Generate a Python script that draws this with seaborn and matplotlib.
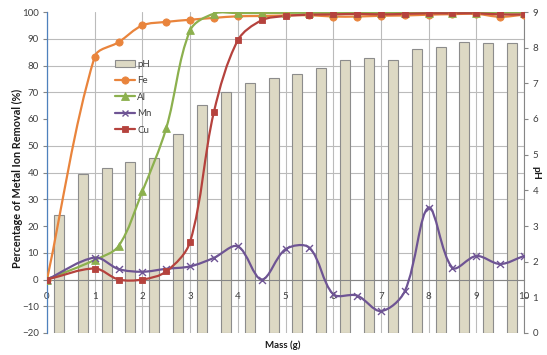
import numpy as np
import pandas as pd
import matplotlib
matplotlib.use("Agg")
import matplotlib.pyplot as plt
from matplotlib.path import Path
from matplotlib.patches import PathPatch, Patch
from matplotlib.lines import Line2D
from matplotlib.ticker import MultipleLocator
import seaborn as sns

# ---- data -------------------------------------------------------------
mass = [0, 1, 1.5, 2, 2.5, 3, 3.5, 4, 4.5, 5, 5.5, 6, 6.5, 7, 7.5, 8, 8.5, 9, 9.5, 10]
fe = [0, 83.3, 88.7, 95.0, 96.3, 97.1, 97.8, 98.4, 98.5, 98.7, 98.8, 98.3, 98.3, 98.6,
      98.7, 99.0, 99.2, 99.3, 98.2, 99.0]
al = [0, 7.3, 12.5, 33.0, 56.6, 93.1, 99.4, 99.6, 99.6, 99.7, 99.7, 99.7, 99.7, 99.7,
      99.8, 99.8, 99.8, 99.8, 99.8, 99.8]
mn = [0, 8.2, 3.9, 2.9, 4.0, 4.9, 8.1, 12.4, 0, 11.3, 11.9, -5.5, -6.0, -11.8, -4.4,
      26.9, 4.4, 8.8, 5.8, 8.8]
cu = [0, 4.1, 0, 0, 3.0, 14.1, 62.7, 89.4, 96.9, 98.5, 99.0, 99.1, 99.3, 99.1, 99.3,
      99.5, 99.5, 99.5, 99.1, 99.1]
ph = [3.31, 4.47, 4.62, 4.79, 4.91, 5.57, 6.39, 6.75, 7.00, 7.14, 7.26, 7.42, 7.65,
      7.72, 7.65, 7.95, 8.01, 8.17, 8.12, 8.14]
x_ticks = [0, 1, 2, 3, 4, 5, 6, 7, 8, 9, 10]

series = [
    ("Fe", fe, "#E9843C", "o", 5.2),
    ("Al", al, "#8CB04E", "^", 5.6),
    ("Mn", mn, "#6E5494", "x", 5.0),
    ("Cu", cu, "#B5423D", "s", 4.8),
]

# ---- style -------------------------------------------------------------
sns.set_theme(style="white")
plt.rcParams["font.family"] = ["Lato", "DejaVu Sans"]
text_col = "#404040"
grid_col = "#BBBBBB"


def smooth_path(xs, ys, trans):
    """Cubic Bezier path through the points; tangents are split between the
    neighbouring segments in proportion to their on-screen lengths."""
    pts = trans.transform(np.column_stack([xs, ys]).astype(float))
    n = len(pts)
    seg = np.hypot(*np.diff(pts, axis=0).T)
    verts = [pts[0]]
    codes = [Path.MOVETO]
    for i in range(n - 1):
        p1, p2 = pts[i], pts[i + 1]
        if i > 0:
            t1 = pts[i + 1] - pts[i - 1]
            c1 = p1 + t1 * seg[i] / (seg[i - 1] + seg[i]) / 3.0
        else:
            c1 = p1 + (p2 - p1) / 3.0
        if i + 2 < n:
            t2 = pts[i + 2] - pts[i]
            c2 = p2 - t2 * seg[i] / (seg[i] + seg[i + 1]) / 3.0
        else:
            c2 = p2 - (p2 - p1) / 3.0
        verts += [c1, c2, p2]
        codes += [Path.CURVE4] * 3
    verts = trans.inverted().transform(np.array(verts))
    return Path(verts, codes)


fig = plt.figure(figsize=(5.47, 3.55), dpi=100)
ax2 = fig.add_axes([47 / 547, 1 - 333 / 355, 477 / 547, 321 / 355])  # pH axis (bars)
ax = ax2.twinx()                                                     # removal axis (lines)
ax.xaxis.set_visible(True)
ax.yaxis.tick_left()
ax.yaxis.set_label_position("left")
ax2.yaxis.tick_right()
ax2.yaxis.set_label_position("right")
ax.set_zorder(ax2.get_zorder() + 1)
ax.patch.set_visible(False)

# ---- pH bars ----------------------------------------------------------
n_bar = len(ph)
bar_centres = (np.arange(n_bar) + 0.5) * 10 / n_bar
bars = pd.DataFrame({"mass": bar_centres, "pH": ph})
sns.barplot(data=bars, x="mass", y="pH", native_scale=True, width=0.42,
            color="#DDD9C4", saturation=1, edgecolor="#8C8C8C", linewidth=0.8,
            errorbar=None, ax=ax2, zorder=2)
ax2.set_ylim(0, 9)
ax2.set_xlim(0, 10)
ax2.set_yticks(range(0, 10))
ax2.yaxis.set_minor_locator(MultipleLocator(0.75))
ax2.set_xticks(x_ticks)
ax2.set_axisbelow(True)
ax2.grid(False)
ax2.grid(which="minor", axis="y", color=grid_col, lw=0.8)
ax2.grid(which="major", axis="x", color=grid_col, lw=0.8)
ax2.tick_params(axis="y", which="major", right=True, direction="out", length=3,
                width=0.8, color="#868686", labelsize=7, labelcolor=text_col, pad=3)
ax2.tick_params(axis="y", which="minor", right=False, length=0)
ax2.tick_params(axis="x", bottom=False, labelbottom=False)
ax2.set_xlabel("")
ax2.set_ylabel("pH", fontsize=7.5, fontweight="bold", color="#1a1a1a", rotation=270,
               va="center", ha="center")
ax2.yaxis.set_label_coords(1.024, 0.5)
for s in ["top", "left", "bottom"]:
    ax2.spines[s].set_visible(False)
ax2.spines["right"].set_color("#868686")
ax2.spines["right"].set_linewidth(0.8)

# ---- removal curves ----------------------------------------------------
ax.set_ylim(-20, 100)
ax.set_xlim(0, 10)
for name, vals, col, mk, ms in series:
    ax.add_patch(PathPatch(smooth_path(mass, vals, ax.transData), facecolor="none",
                           edgecolor=col, lw=1.6, zorder=3, capstyle="round",
                           joinstyle="round"))
    frame = pd.DataFrame({"mass": mass, "val": vals})
    if mk == "x":
        sns.scatterplot(data=frame, x="mass", y="val", marker="x", color=col, s=ms ** 2,
                        linewidth=1.0, ax=ax, zorder=4, legend=False)
    else:
        sns.scatterplot(data=frame, x="mass", y="val", marker=mk, color=col, s=ms ** 2,
                        edgecolor=col, linewidth=0.6, ax=ax, zorder=4, legend=False)

ax.set_ylim(-20, 100)
ax.set_xlim(0, 10)
ax.set_yticks(range(-20, 101, 10))
ax.set_xticks(x_ticks)
ax.set_xticklabels([str(t) for t in x_ticks])
ax.grid(False)
ax.spines["bottom"].set_position(("data", 0))
ax.spines["bottom"].set_color("#868686")
ax.spines["bottom"].set_linewidth(0.8)
ax.spines["left"].set_color("#4F81BD")
ax.spines["left"].set_linewidth(0.9)
for s in ["top", "right"]:
    ax.spines[s].set_visible(False)
ax.tick_params(axis="y", left=True, right=False, direction="out", length=3, width=0.8,
               color="#868686", labelsize=7, labelcolor=text_col, pad=3)
ax.tick_params(axis="x", bottom=False, top=False, labelbottom=True, labelsize=7,
               labelcolor=text_col, pad=3)
ax.set_ylabel("Percentage of Metal Ion Removal (%)", fontsize=7.8, fontweight="bold",
              color="#1a1a1a", va="center", ha="center")
ax.yaxis.set_label_coords(-0.061, 0.48)
ax.set_xlabel("")
fig.text(283 / 547, 1 - 345 / 355, "Mass (g)", fontsize=7, fontweight="bold",
         color="#1a1a1a", ha="center", va="center")

# ---- legend -----------------------------------------------------------
handles = [Patch(facecolor="#DDD9C4", edgecolor="#8C8C8C", lw=0.8, label="pH")]
for name, vals, col, mk, ms in series:
    handles.append(Line2D([0], [0], color=col, lw=1.6, marker=mk, markersize=ms,
                          markeredgewidth=1.0 if mk == "x" else 0.6,
                          markerfacecolor=col, markeredgecolor=col, label=name))
leg = ax.legend(handles=handles, loc="upper left", bbox_to_anchor=(0.134, 0.864),
                frameon=False, fontsize=7, handlelength=2.1, handletextpad=0.2,
                labelspacing=0.78, borderaxespad=0)
for t in leg.get_texts():
    t.set_color(text_col)

fig.savefig("out.png", dpi=100)
